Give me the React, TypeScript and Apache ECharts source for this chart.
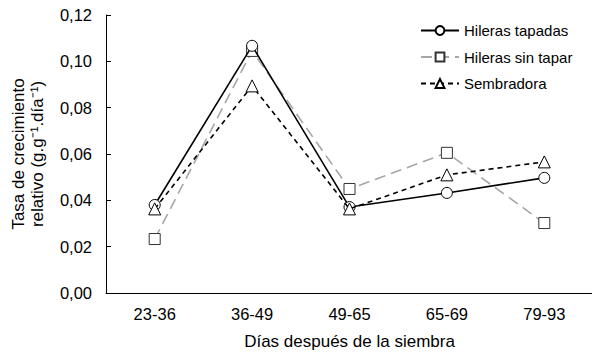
import React, { useEffect, useRef } from "react";
import * as echarts from "echarts";

const categories = ["23-36", "36-49", "49-65", "65-69", "79-93"];
const tapadas = [0.038, 0.1067, 0.0371, 0.0432, 0.0497];
const sinTapar = [0.0233, 0.1045, 0.0449, 0.0605, 0.0302];
const sembradora = [0.0363, 0.0894, 0.0363, 0.051, 0.0566];
const seriesNames = ["Hileras tapadas", "Hileras sin tapar", "Sembradora"];

const FONT = "Liberation Sans, Arial, sans-serif";

export default function App() {
  const ref = useRef<HTMLDivElement>(null);
  useEffect(() => {
    if (!ref.current) return;
    const chart = echarts.init(ref.current, null, { renderer: "svg" });
    chart.setOption({
      animation: false,
      textStyle: { fontFamily: FONT },
      grid: {
        left: 106,
        right: 7,
        top: 15,
        bottom: 67,
        containLabel: false,
        outerBoundsMode: "none",
      },
      legend: {
        orient: "vertical",
        left: 415,
        top: 18,
        itemWidth: 38,
        itemHeight: 11,
        itemGap: 11.5,
        textStyle: { fontFamily: FONT, fontSize: 15, color: "#000" },
        data: seriesNames,
      },
      xAxis: {
        type: "category",
        data: categories,
        boundaryGap: true,
        axisLine: { lineStyle: { color: "#000", width: 1 } },
        axisTick: { inside: true, length: 5, lineStyle: { color: "#000" } },
        axisLabel: { color: "#000", fontSize: 16.5, margin: 12, fontFamily: FONT },
        name: "Días después de la siembra",
        nameLocation: "middle",
        nameGap: 40,
        nameTextStyle: { color: "#000", fontSize: 17, fontFamily: FONT },
      },
      yAxis: {
        type: "value",
        min: 0,
        max: 0.12,
        interval: 0.02,
        splitLine: { show: false },
        axisLine: { show: true, lineStyle: { color: "#000", width: 1 } },
        axisTick: { show: true, inside: true, length: 5, lineStyle: { color: "#000" } },
        axisLabel: {
          color: "#000",
          fontSize: 16.5,
          margin: 14,
          fontFamily: FONT,
          formatter: (v: number) => v.toFixed(2).replace(".", ","),
        },
        name: "Tasa de crecimiento\nrelativo (g.g⁻¹.día⁻¹)",
        nameLocation: "middle",
        nameRotate: 90,
        nameGap: 59,
        nameTextStyle: { color: "#000", fontSize: 17, lineHeight: 19, fontFamily: FONT },
      },
      series: [
        {
          name: seriesNames[0],
          type: "line",
          data: tapadas,
          symbol: "circle",
          symbolSize: 11,
          lineStyle: { color: "#000", width: 1.6, type: "solid" },
          itemStyle: { color: "#fff", borderColor: "#000", borderWidth: 1 },
          z: 3,
        },
        {
          name: seriesNames[1],
          type: "line",
          data: sinTapar,
          symbol: "rect",
          symbolSize: 11,
          lineStyle: { color: "#a6a6a6", width: 1.6, type: [11, 6] },
          itemStyle: { color: "#fff", borderColor: "#333", borderWidth: 1 },
          z: 2,
        },
        {
          name: seriesNames[2],
          type: "line",
          data: sembradora,
          symbol: "triangle",
          symbolSize: 12,
          lineStyle: { color: "#000", width: 1.6, type: [5, 4] },
          itemStyle: { color: "#fff", borderColor: "#000", borderWidth: 1 },
          z: 4,
        },
      ],
    });
    return () => chart.dispose();
  }, []);
  return <div ref={ref} style={{ width: 600, height: 360, margin: -8 }} />;
}
